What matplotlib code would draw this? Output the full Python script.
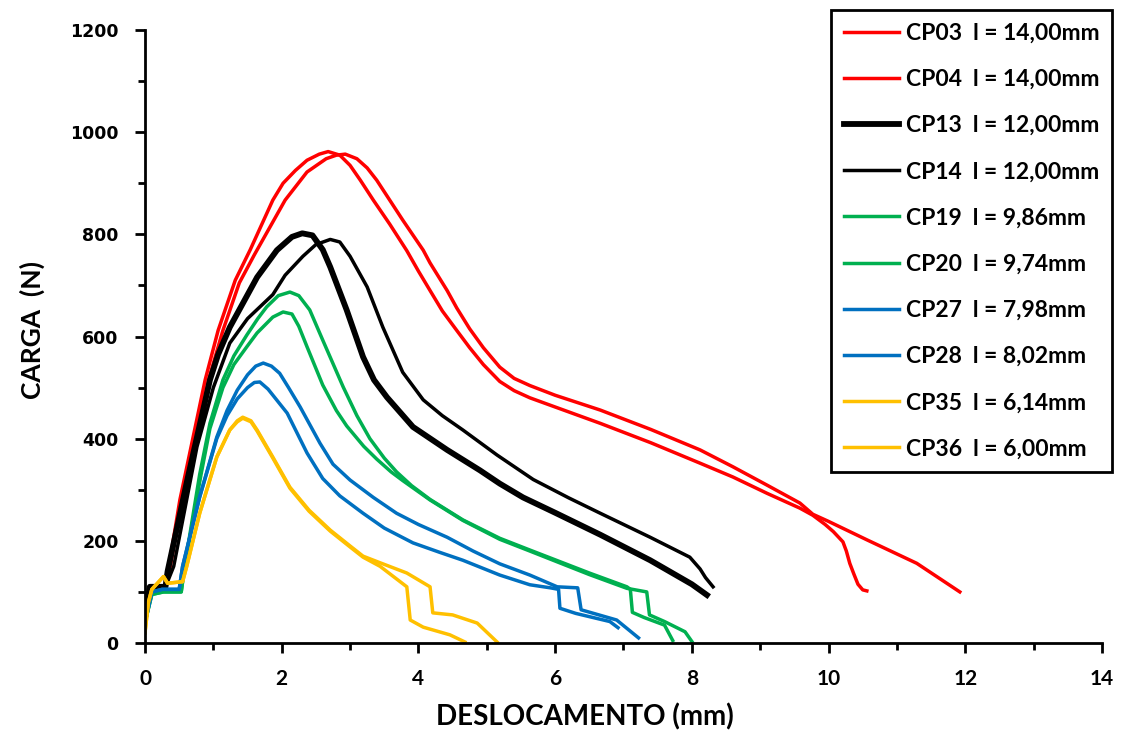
import numpy as np
import matplotlib.pyplot as plt
from matplotlib.ticker import MultipleLocator

# Curvas carga x deslocamento
cp03_x = [0, 0.05, 0.1, 0.3, 0.35, 0.51, 0.88, 1.07, 1.32, 1.54, 1.87, 2.02, 2.20, 2.37, 2.55, 2.68, 2.85,
          3.0, 3.15, 3.34, 3.58, 3.83, 4.0, 4.17, 4.35, 4.56, 4.75, 4.95, 5.19, 5.4, 5.63, 6.0, 6.66,
          7.4, 8.12, 8.6, 9.1, 9.58, 9.77, 9.95, 10.07, 10.21, 10.26, 10.31, 10.37, 10.43, 10.5, 10.56]
cp03_y = [40, 85, 105, 110, 150, 280, 515, 612, 710, 770, 867, 900, 925, 945, 957, 962, 955,
          935, 906, 867, 820, 768, 728, 690, 650, 612, 578, 545, 512, 494, 480, 462, 430,
          392, 352, 325, 293, 264, 250, 232, 218, 198, 180, 156, 135, 115, 104, 102]

cp04_x = [0, 0.05, 0.1, 0.3, 0.37, 0.60, 0.93, 1.14, 1.38, 1.60, 2.05, 2.37, 2.65, 2.80, 2.93, 3.10, 3.25,
          3.39, 3.58, 3.77, 4.07, 4.17, 4.42, 4.56, 4.75, 4.95, 5.19, 5.4, 5.63, 6.0, 6.66, 7.4, 8.12,
          8.6, 9.1, 9.58, 9.77, 10.0, 10.56, 11.29, 11.92]
cp04_y = [40, 85, 105, 110, 150, 320, 515, 612, 705, 760, 867, 922, 948, 955, 957, 948, 930,
          906, 867, 828, 769, 744, 690, 656, 615, 578, 540, 518, 504, 485, 456, 418, 378,
          345, 309, 274, 252, 238, 202, 156, 100]

cp13_x = [0, 0.07, 0.3, 0.33, 0.62, 0.95, 1.07, 1.24, 1.64, 1.93, 2.15, 2.30, 2.45, 2.6, 2.71, 2.95,
          3.19, 3.35, 3.54, 3.92, 4.42, 4.9, 5.19, 5.53, 6.0, 6.66, 7.39, 8.0, 8.22]
cp13_y = [50, 110, 110, 140, 320, 515, 565, 618, 716, 769, 795, 802, 798, 770, 736, 652,
          560, 515, 481, 423, 378, 338, 312, 285, 255, 212, 162, 115, 94]

cp14_x = [0, 0.07, 0.3, 0.42, 0.76, 1.0, 1.24, 1.5, 1.87, 2.05, 2.31, 2.5, 2.71, 2.85, 3.0, 3.25,
          3.48, 3.77, 4.07, 4.35, 4.65, 5.15, 5.68, 6.2, 6.66, 7.39, 7.97, 8.12, 8.2, 8.31]
cp14_y = [50, 110, 110, 150, 384, 500, 587, 635, 682, 720, 757, 780, 790, 785, 757, 697,
          618, 530, 476, 445, 417, 368, 320, 284, 254, 207, 168, 145, 128, 110]

cp19_x = [0, 0.1, 0.27, 0.53, 0.58, 0.80, 0.95, 1.14, 1.30, 1.49, 1.65, 1.78, 1.95, 2.12, 2.25, 2.41,
          2.60, 2.90, 3.10, 3.29, 3.50, 3.68, 3.90, 4.17, 4.65, 5.19, 5.63, 6.50, 7.05, 7.10, 7.13,
          7.30, 7.60, 7.72]
cp19_y = [40, 95, 100, 100, 150, 330, 430, 515, 562, 603, 635, 658, 680, 687, 680, 652,
          593, 501, 445, 400, 362, 335, 308, 281, 241, 205, 182, 137, 110, 105, 60,
          50, 35, 5]

cp20_x = [0, 0.1, 0.27, 0.53, 0.58, 0.82, 0.95, 1.14, 1.30, 1.49, 1.64, 1.87, 2.02, 2.15, 2.25, 2.37,
          2.60, 2.80, 2.95, 3.20, 3.39, 3.60, 3.77, 4.17, 4.65, 5.19, 5.63, 6.50, 7.05, 7.34, 7.38,
          7.60, 7.90, 8.00]
cp20_y = [40, 95, 100, 100, 150, 330, 420, 500, 545, 580, 607, 638, 648, 644, 620, 580,
          505, 455, 425, 385, 360, 335, 318, 280, 240, 203, 180, 134, 107, 100, 55,
          42, 22, 3]

cp27_x = [0, 0.1, 0.25, 0.5, 0.55, 0.80, 1.05, 1.20, 1.35, 1.50, 1.62, 1.73, 1.85, 1.97, 2.10, 2.27,
          2.56, 2.75, 3.0, 3.34, 3.68, 4.0, 4.42, 4.8, 5.19, 5.63, 6.03, 6.33, 6.38, 6.90, 7.22]
cp27_y = [40, 100, 105, 105, 150, 286, 403, 455, 495, 525, 542, 548, 542, 528, 500, 462,
          391, 350, 319, 285, 254, 232, 207, 180, 155, 133, 110, 108, 65, 45, 10]

cp28_x = [0, 0.1, 0.25, 0.5, 0.55, 0.80, 1.05, 1.20, 1.35, 1.50, 1.60, 1.68, 1.80, 2.08, 2.37, 2.60,
          2.85, 3.19, 3.5, 3.92, 4.3, 4.65, 5.19, 5.63, 5.93, 6.05, 6.07, 6.30, 6.80, 6.92]
cp28_y = [40, 100, 105, 105, 150, 286, 400, 445, 478, 500, 510, 511, 497, 450, 372, 322,
          288, 254, 225, 196, 178, 162, 133, 114, 108, 105, 68, 58, 42, 30]

cp35_x = [0, 0.05, 0.1, 0.27, 0.33, 0.55, 0.61, 0.80, 1.05, 1.24, 1.35, 1.43, 1.55, 1.64, 1.87, 2.12,
          2.40, 2.71, 3.0, 3.19, 3.44, 3.83, 4.17, 4.21, 4.50, 4.86, 5.15]
cp35_y = [20, 80, 105, 130, 117, 120, 150, 254, 364, 417, 435, 442, 435, 417, 364, 305,
          260, 221, 190, 170, 157, 137, 110, 59, 55, 39, 2]

cp36_x = [0, 0.05, 0.1, 0.27, 0.33, 0.55, 0.61, 0.80, 1.05, 1.24, 1.35, 1.43, 1.55, 1.64, 1.87, 2.12,
          2.40, 2.71, 3.0, 3.19, 3.44, 3.83, 3.88, 4.07, 4.46, 4.68]
cp36_y = [20, 80, 105, 130, 117, 120, 150, 254, 364, 417, 433, 440, 433, 415, 362, 303,
          258, 219, 188, 168, 150, 110, 45, 31, 16, 2]

labels = ["CP03  l = 14,00mm", "CP04  l = 14,00mm", "CP13  l = 12,00mm", "CP14  l = 12,00mm",
          "CP19  l = 9,86mm", "CP20  l = 9,74mm", "CP27  l = 7,98mm", "CP28  l = 8,02mm",
          "CP35  l = 6,14mm", "CP36  l = 6,00mm"]
series = [(cp03_x, cp03_y), (cp04_x, cp04_y), (cp13_x, cp13_y), (cp14_x, cp14_y),
          (cp19_x, cp19_y), (cp20_x, cp20_y), (cp27_x, cp27_y), (cp28_x, cp28_y),
          (cp35_x, cp35_y), (cp36_x, cp36_y)]
colors = ["#FF0000", "#FF0000", "#000000", "#000000", "#00B050", "#00B050",
          "#0070C0", "#0070C0", "#FFC000", "#FFC000"]
widths = [2.5, 2.5, 4.2, 2.5, 2.5, 2.5, 2.5, 2.5, 2.5, 2.5]

fig = plt.figure(figsize=(11.24, 7.4), dpi=100)
ax = fig.add_axes([145 / 1124, 1 - 643 / 740, (1102 - 145) / 1124, (643 - 30) / 740])

for (xs, ys), lab, c, lw in zip(series, labels, colors, widths):
    ax.plot(xs, ys, color=c, lw=lw, label=lab, solid_joinstyle="round")

ax.set_xlim(0, 14)
ax.set_ylim(0, 1200)
ax.xaxis.set_major_locator(MultipleLocator(2))
ax.xaxis.set_minor_locator(MultipleLocator(1))
ax.yaxis.set_major_locator(MultipleLocator(200))
ax.yaxis.set_minor_locator(MultipleLocator(100))

for s in ["top", "right"]:
    ax.spines[s].set_visible(False)
for s in ["left", "bottom"]:
    ax.spines[s].set_linewidth(2)

ax.tick_params(which="major", direction="out", length=7, width=2)
ax.tick_params(which="minor", direction="out", length=5, width=2)
ax.tick_params(axis="y", pad=12)
ax.tick_params(axis="x", pad=12)

for t in ax.get_yticklabels():
    t.set_fontfamily("DejaVu Sans")
    t.set_fontweight("bold")
    t.set_fontsize(12.5)
for t in ax.get_xticklabels():
    t.set_fontfamily("Lato")
    t.set_fontweight("bold")
    t.set_fontsize(15)

ax.set_xlabel("DESLOCAMENTO (mm)", fontfamily="Lato", fontweight="bold", fontsize=20)
ax.set_ylabel("CARGA  (N)", fontfamily="Lato", fontweight="bold", fontsize=19)
ax.xaxis.set_label_coords(0.46, -0.098)
ax.yaxis.set_label_coords(-0.104, 0.51)

leg = ax.legend(loc="upper right", bbox_to_anchor=(1112 / 1124, 1 - 10 / 740),
                bbox_transform=fig.transFigure, borderaxespad=0,
                prop={"family": "Lato", "weight": "bold", "size": 16.5},
                handlelength=2.4, handletextpad=0.3, labelspacing=1.1,
                borderpad=0.55, fancybox=False, framealpha=1, edgecolor="black")
leg.get_frame().set_linewidth(2)

plt.savefig("out.png", dpi=100)
